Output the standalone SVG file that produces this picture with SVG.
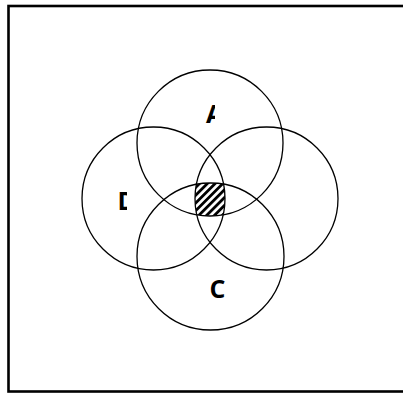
<svg xmlns="http://www.w3.org/2000/svg" width="403" height="394" viewBox="0 0 403 394">
<style>
.c{fill:none;stroke:#000;stroke-width:1.3}
.t{font-family:"Open Sans",sans-serif;font-weight:bold;font-size:25px;fill:#000}
</style>
<defs>
<pattern id="hatch" patternUnits="userSpaceOnUse" width="5.5" height="10" patternTransform="rotate(45)">
<rect x="0" y="0" width="2.8" height="10" fill="#000"/>
</pattern>
<clipPath id="cA"><circle cx="210" cy="143" r="73"/></clipPath>
<clipPath id="cB"><circle cx="266.5" cy="198.5" r="71.5"/></clipPath>
<clipPath id="cC"><circle cx="210.5" cy="256.5" r="73.5"/></clipPath>
<clipPath id="cD"><circle cx="153.5" cy="198.5" r="71.5"/></clipPath>
<clipPath id="clipA"><rect x="190" y="90" width="25" height="40"/></clipPath>
<clipPath id="clipD"><rect x="100" y="180" width="27" height="40"/></clipPath>
</defs>
<rect x="8.5" y="6" width="420" height="385.5" fill="#fff" stroke="#000" stroke-width="2.6"/>
<g id="hatched-region">
<g clip-path="url(#cA)"><g clip-path="url(#cB)"><g clip-path="url(#cC)"><g clip-path="url(#cD)">
<rect x="180" y="170" width="60" height="60" fill="url(#hatch)"/>
</g></g></g></g>
</g>
<g id="node-A"><circle class="c" cx="210" cy="143" r="73"/><text class="t" x="206" y="123" clip-path="url(#clipA)">A</text></g>
<g id="node-B"><circle class="c" cx="266.5" cy="198.5" r="71.5"/></g>
<g id="node-C"><circle class="c" cx="210.5" cy="256.5" r="73.5"/><text class="t" x="209.5" y="298">C</text></g>
<g id="node-D"><circle class="c" cx="153.5" cy="198.5" r="71.5"/><text class="t" x="117.5" y="210" clip-path="url(#clipD)">D</text></g>
<g id="connectors"></g>
</svg>
